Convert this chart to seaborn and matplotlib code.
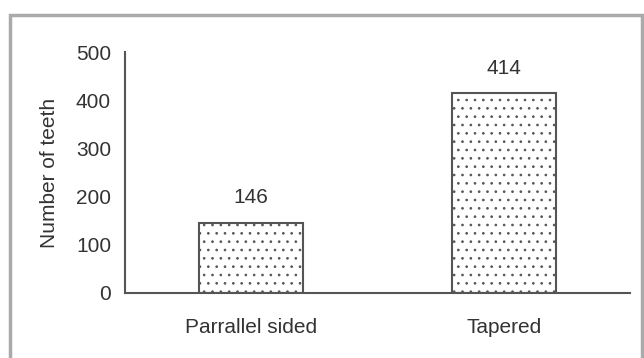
"""Bar chart: number of teeth by tooth shape"""
import matplotlib
matplotlib.use('Agg')
import matplotlib.pyplot as plt
from matplotlib.patches import Rectangle
import pandas as pd
import seaborn as sns

# data
shapes = ['Parrallel sided', 'Tapered']
teeth = [146, 414]
y_ticks = [0, 100, 200, 300, 400, 500]

sns.set_style('white')
plt.rcParams['font.family'] = ['Liberation Sans', 'DejaVu Sans']
plt.rcParams['hatch.color'] = '#a0a0a0'
plt.rcParams['hatch.linewidth'] = 0.7

FS = 15
TXT = '#333333'

df = pd.DataFrame({'shape': shapes, 'teeth': teeth})

fig = plt.figure(figsize=(6.44, 3.58), dpi=100)
ax = fig.add_axes([125 / 644, 1 - 293 / 358, 505 / 644, 241 / 358])

sns.barplot(data=df, x='shape', y='teeth', color='white', width=0.41,
            edgecolor='#555555', linewidth=1.5, hatch='..', ax=ax)

# value labels on top of each bar
for bar, n in zip(ax.patches, teeth):
    ax.annotate(f'{n}', (bar.get_x() + bar.get_width() / 2, bar.get_height()),
                xytext=(0, 18), textcoords='offset points',
                ha='center', va='center', fontsize=FS, color=TXT)

ax.set_xlim(-0.5, 1.5)
ax.set_ylim(0, 500)
ax.set_yticks(y_ticks)
ax.set_xlabel('')
ax.set_ylabel('Number of teeth', fontsize=FS, color=TXT, labelpad=12)

# ticks between categories on the x axis, none under the labels
ax.set_xticks([-0.5, 0.5, 1.5], minor=True)
ax.tick_params(axis='x', which='major', length=0, pad=18, labelsize=FS, labelcolor=TXT)
ax.tick_params(axis='x', which='minor', length=4, width=1.2, color='#555555', direction='out')
ax.tick_params(axis='y', length=6, width=1.2, color='#555555', direction='out',
               labelsize=FS, labelcolor=TXT, pad=4)

sns.despine(ax=ax)
for side in ['left', 'bottom']:
    ax.spines[side].set_color('#555555')
    ax.spines[side].set_linewidth(1.5)

# grey frame around the chart area
fig.patches.append(Rectangle((10 / 644, -0.1), 632 / 644, 1.1 - 15 / 358,
                             transform=fig.transFigure, fill=False,
                             edgecolor='#aaaaaa', linewidth=2.5))

fig.savefig('out.png', dpi=100)
